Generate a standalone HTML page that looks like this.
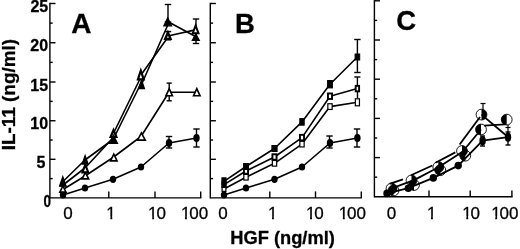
<!DOCTYPE html>
<html><head><meta charset="utf-8"><title>IL-11 vs HGF</title>
<style>html,body{margin:0;padding:0;background:#fff;}svg{display:block;will-change:transform;filter:grayscale(1);}text{stroke:#000;stroke-width:0.3px;}</style></head>
<body><svg width="520" height="249" viewBox="0 0 520 249" font-family="'Liberation Sans', Arial, sans-serif" fill="#000">
<line x1="49.9" y1="2.8" x2="49.9" y2="198.6" stroke="#000" stroke-width="1.4" />
<line x1="49.9" y1="197.9" x2="201.4" y2="197.9" stroke="#000" stroke-width="1.4" />
<line x1="49.9" y1="3.5" x2="55.5" y2="3.5" stroke="#000" stroke-width="1.4" />
<line x1="49.9" y1="42.75" x2="55.5" y2="42.75" stroke="#000" stroke-width="1.4" />
<line x1="49.9" y1="82" x2="55.5" y2="82" stroke="#000" stroke-width="1.4" />
<line x1="49.9" y1="120.75" x2="55.5" y2="120.75" stroke="#000" stroke-width="1.4" />
<line x1="49.9" y1="159.3" x2="55.5" y2="159.3" stroke="#000" stroke-width="1.4" />
<line x1="49.9" y1="23.12" x2="52.7" y2="23.12" stroke="#000" stroke-width="1.4" />
<line x1="49.9" y1="62.38" x2="52.7" y2="62.38" stroke="#000" stroke-width="1.4" />
<line x1="49.9" y1="101.38" x2="52.7" y2="101.38" stroke="#000" stroke-width="1.4" />
<line x1="49.9" y1="140.03" x2="52.7" y2="140.03" stroke="#000" stroke-width="1.4" />
<line x1="49.9" y1="178.6" x2="52.7" y2="178.6" stroke="#000" stroke-width="1.4" />
<line x1="108.8" y1="197.9" x2="108.8" y2="191.4" stroke="#000" stroke-width="1.4" />
<line x1="155" y1="197.9" x2="155" y2="191.4" stroke="#000" stroke-width="1.4" />
<line x1="200.7" y1="197.9" x2="200.7" y2="191.4" stroke="#000" stroke-width="1.4" />
<text x="30.46" y="12.0" font-size="16" font-weight="bold">25</text>
<text x="30.36" y="51.4" font-size="16" font-weight="bold">20</text>
<text x="30.31" y="91.1" font-size="16" font-weight="bold">15</text>
<text x="30.31" y="129.4" font-size="16" font-weight="bold">10</text>
<text x="36.62" y="167.8" font-size="16" font-weight="bold">5</text>
<text x="43.5" y="207.4" font-size="16" font-weight="bold" textLength="7.5" lengthAdjust="spacingAndGlyphs">0</text>
<text x="63.14" y="219.1" font-size="17" font-weight="normal">0</text>
<text x="106.31" y="219.1" font-size="17" font-weight="normal">1</text>
<text x="148.11" y="219.1" font-size="17" font-weight="normal" dx="0 -1.20">10</text>
<text x="180.91" y="219.1" font-size="17" font-weight="normal" dx="0 -1.20">100</text>
<text x="71.23" y="33.1" font-size="28" font-weight="bold">A</text>
<text transform="translate(14.8,94.6) rotate(-90)" font-size="18.9" font-weight="bold" text-anchor="middle">IL-11 (ng/ml)</text>
<polyline points="63,195 85,188 113,179.3 141,167 169,143 196.5,138" fill="none" stroke="#000" stroke-width="1.6" stroke-linejoin="round" />
<line x1="169" y1="136.5" x2="169" y2="148" stroke="#000" stroke-width="1.4" />
<line x1="165.8" y1="136.5" x2="172.2" y2="136.5" stroke="#000" stroke-width="1.4" />
<line x1="165.8" y1="148" x2="172.2" y2="148" stroke="#000" stroke-width="1.4" />
<line x1="196.5" y1="129" x2="196.5" y2="147" stroke="#000" stroke-width="1.4" />
<line x1="193.3" y1="129" x2="199.7" y2="129" stroke="#000" stroke-width="1.4" />
<line x1="193.3" y1="147" x2="199.7" y2="147" stroke="#000" stroke-width="1.4" />
<polyline points="63,189.5 85,176 113,157.5 141,136.5 169,92.2 196.5,92.2" fill="none" stroke="#000" stroke-width="1.6" stroke-linejoin="round" />
<line x1="169.2" y1="83.1" x2="169.2" y2="100.8" stroke="#000" stroke-width="1.4" />
<line x1="166.6" y1="83.1" x2="171.8" y2="83.1" stroke="#000" stroke-width="1.4" />
<line x1="166.6" y1="100.8" x2="171.8" y2="100.8" stroke="#000" stroke-width="1.4" />
<polyline points="63,181.5 85,160 113,139.5" fill="none" stroke="#000" stroke-width="1.6" stroke-linejoin="round" />
<polyline points="115.6,134.5 142.4,80.5" fill="none" stroke="#000" stroke-width="1.6" stroke-linejoin="round" />
<polyline points="141.5,84.5 169,22.2 196.5,37" fill="none" stroke="#000" stroke-width="1.6" stroke-linejoin="round" />
<polyline points="63,185 85,168 113.5,137.3" fill="none" stroke="#000" stroke-width="1.6" stroke-linejoin="round" />
<polyline points="113.4,133.5 140.2,78.5" fill="none" stroke="#000" stroke-width="1.6" stroke-linejoin="round" />
<polyline points="140.8,75.3 169,35.7 196.5,29.6" fill="none" stroke="#000" stroke-width="1.6" stroke-linejoin="round" />
<line x1="168" y1="4.5" x2="168" y2="22" stroke="#000" stroke-width="1.4" />
<line x1="164.8" y1="4.5" x2="171.2" y2="4.5" stroke="#000" stroke-width="1.4" />
<line x1="164.8" y1="22" x2="171.2" y2="22" stroke="#000" stroke-width="1.4" />
<line x1="196" y1="19" x2="196" y2="43.5" stroke="#000" stroke-width="1.4" />
<line x1="192.8" y1="19" x2="199.2" y2="19" stroke="#000" stroke-width="1.4" />
<line x1="192.8" y1="43.5" x2="199.2" y2="43.5" stroke="#000" stroke-width="1.4" />
<line x1="168.2" y1="31.6" x2="168.2" y2="39.8" stroke="#000" stroke-width="1.5" />
<line x1="165.2" y1="31.6" x2="171.2" y2="31.6" stroke="#000" stroke-width="1.5" />
<line x1="165.2" y1="39.8" x2="171.2" y2="39.8" stroke="#000" stroke-width="1.5" />
<ellipse cx="63" cy="195" rx="3.2" ry="3.6" fill="#000"/>
<ellipse cx="85" cy="188" rx="3.2" ry="3.6" fill="#000"/>
<ellipse cx="113" cy="179.3" rx="3.2" ry="3.6" fill="#000"/>
<ellipse cx="141" cy="167" rx="3.2" ry="3.6" fill="#000"/>
<ellipse cx="169" cy="143" rx="3.2" ry="3.9" fill="#000"/>
<ellipse cx="196.5" cy="138" rx="3.2" ry="3.9" fill="#000"/>
<polygon points="62.9,185.9 65.95,192.1 59.85,192.1" fill="#fff" stroke="#000" stroke-width="1.6" stroke-linejoin="miter"/>
<polygon points="85.4,172.3 88.65,178.9 82.15,178.9" fill="#fff" stroke="#000" stroke-width="1.6" stroke-linejoin="miter"/>
<polygon points="113.8,154.1 117.05,160.9 110.55,160.9" fill="#fff" stroke="#000" stroke-width="1.6" stroke-linejoin="miter"/>
<polygon points="141.4,132.9 145.25,140.1 137.55,140.1" fill="#fff" stroke="#000" stroke-width="1.6" stroke-linejoin="miter"/>
<polygon points="169.2,88.6 172.45,95.8 165.95,95.8" fill="#fff" stroke="#000" stroke-width="1.6" stroke-linejoin="miter"/>
<polygon points="196.8,88.6 200.05,95.8 193.55,95.8" fill="#fff" stroke="#000" stroke-width="1.6" stroke-linejoin="miter"/>
<polygon points="63,180.55 65.3,185.85 60.7,185.85" fill="#fff" stroke="#000" stroke-width="2.0" stroke-linejoin="miter"/>
<polygon points="85.3,164.6 88.2,172.4 82.4,172.4" fill="#fff" stroke="#000" stroke-width="2.1" stroke-linejoin="miter"/>
<polygon points="113.5,130.0 116.4,137.0 110.6,137.0" fill="#fff" stroke="#000" stroke-width="2.2" stroke-linejoin="miter"/>
<polygon points="140.8,70.7 143.7,79.3 137.9,79.3" fill="#fff" stroke="#000" stroke-width="2.2" stroke-linejoin="miter"/>
<polygon points="167.9,32.45 170.6,38.95 165.2,38.95" fill="#fff" stroke="#000" stroke-width="2.3" stroke-linejoin="miter"/>
<polygon points="195.6,25.6 198.5,33.2 192.7,33.2" fill="#fff" stroke="#000" stroke-width="2.0" stroke-linejoin="miter"/>
<polygon points="62.8,176.7 66.0,185.9 59.6,185.9" fill="#000" stroke="#000" stroke-width="1.2" stroke-linejoin="miter"/>
<polygon points="85.1,155.5 88.1,164.1 82.1,164.1" fill="#000" stroke="#000" stroke-width="1.2" stroke-linejoin="miter"/>
<polygon points="113.4,135.1 117.5,143.5 109.3,143.5" fill="#000" stroke="#000" stroke-width="1.2" stroke-linejoin="miter"/>
<polygon points="141.5,80.0 144.5,88.6 138.5,88.6" fill="#000" stroke="#000" stroke-width="1.2" stroke-linejoin="miter"/>
<polygon points="167.7,17.8 171.6,25.8 163.8,25.8" fill="#000" stroke="#000" stroke-width="1.2" stroke-linejoin="miter"/>
<polygon points="195.8,33.7 199.3,40.3 192.3,40.3" fill="#000" stroke="#000" stroke-width="1.2" stroke-linejoin="miter"/>
<line x1="210.3" y1="2.8" x2="210.3" y2="198.6" stroke="#000" stroke-width="1.4" />
<line x1="210.3" y1="197.9" x2="362.0" y2="197.9" stroke="#000" stroke-width="1.4" />
<line x1="210.3" y1="3.5" x2="215.9" y2="3.5" stroke="#000" stroke-width="1.4" />
<line x1="210.3" y1="42.75" x2="215.9" y2="42.75" stroke="#000" stroke-width="1.4" />
<line x1="210.3" y1="82" x2="215.9" y2="82" stroke="#000" stroke-width="1.4" />
<line x1="210.3" y1="120.75" x2="215.9" y2="120.75" stroke="#000" stroke-width="1.4" />
<line x1="210.3" y1="159.3" x2="215.9" y2="159.3" stroke="#000" stroke-width="1.4" />
<line x1="210.3" y1="23.12" x2="213.1" y2="23.12" stroke="#000" stroke-width="1.4" />
<line x1="210.3" y1="62.38" x2="213.1" y2="62.38" stroke="#000" stroke-width="1.4" />
<line x1="210.3" y1="101.38" x2="213.1" y2="101.38" stroke="#000" stroke-width="1.4" />
<line x1="210.3" y1="140.03" x2="213.1" y2="140.03" stroke="#000" stroke-width="1.4" />
<line x1="210.3" y1="178.6" x2="213.1" y2="178.6" stroke="#000" stroke-width="1.4" />
<line x1="269.8" y1="197.9" x2="269.8" y2="191.4" stroke="#000" stroke-width="1.4" />
<line x1="315.5" y1="197.9" x2="315.5" y2="191.4" stroke="#000" stroke-width="1.4" />
<line x1="361.3" y1="197.9" x2="361.3" y2="191.4" stroke="#000" stroke-width="1.4" />
<text x="218.34" y="219.1" font-size="17" font-weight="normal">0</text>
<text x="267.91" y="219.1" font-size="17" font-weight="normal">1</text>
<text x="306.01" y="219.1" font-size="17" font-weight="normal" dx="0 -1.20">10</text>
<text x="338.81" y="219.1" font-size="17" font-weight="normal" dx="0 -1.20">100</text>
<text x="234.99" y="32.8" font-size="27.5" font-weight="bold">B</text>
<text x="230.29" y="243.6" font-size="18.3" font-weight="bold">HGF (ng/ml)</text>
<polyline points="224,195 246,188 274.5,179.3 302,167 330,143 357.4,138" fill="none" stroke="#000" stroke-width="1.6" stroke-linejoin="round" />
<line x1="329.5" y1="136" x2="329.5" y2="148" stroke="#000" stroke-width="1.4" />
<line x1="326.3" y1="136" x2="332.7" y2="136" stroke="#000" stroke-width="1.4" />
<line x1="326.3" y1="148" x2="332.7" y2="148" stroke="#000" stroke-width="1.4" />
<line x1="357" y1="129" x2="357" y2="147" stroke="#000" stroke-width="1.4" />
<line x1="353.8" y1="129" x2="360.2" y2="129" stroke="#000" stroke-width="1.4" />
<line x1="353.8" y1="147" x2="360.2" y2="147" stroke="#000" stroke-width="1.4" />
<polyline points="224,181.4 246,166.5 274.5,148.5 302,121.9 330,84.2 357.4,57" fill="none" stroke="#000" stroke-width="1.6" stroke-linejoin="round" />
<polyline points="224,184.6 246,171 274.5,157 302,137.6 330,96.2 357.4,88.6" fill="none" stroke="#000" stroke-width="1.6" stroke-linejoin="round" />
<polyline points="224,189.0 246,177.2 274.5,163.3 302,144.1 330,106.6 357.4,102.3" fill="none" stroke="#000" stroke-width="1.6" stroke-linejoin="round" />
<line x1="357.4" y1="39.5" x2="357.4" y2="72.5" stroke="#000" stroke-width="1.4" />
<line x1="354.2" y1="39.5" x2="360.6" y2="39.5" stroke="#000" stroke-width="1.4" />
<line x1="354.2" y1="72.5" x2="360.6" y2="72.5" stroke="#000" stroke-width="1.4" />
<line x1="357.4" y1="77" x2="357.4" y2="86" stroke="#000" stroke-width="1.4" />
<line x1="354.3" y1="77" x2="360.4" y2="77" stroke="#000" stroke-width="1.4" />
<ellipse cx="224" cy="195" rx="3.2" ry="3.6" fill="#000"/>
<ellipse cx="246" cy="188" rx="3.2" ry="3.6" fill="#000"/>
<ellipse cx="274.5" cy="179.3" rx="3.2" ry="3.6" fill="#000"/>
<ellipse cx="302" cy="167" rx="3.2" ry="3.6" fill="#000"/>
<ellipse cx="330" cy="143" rx="3.2" ry="3.9" fill="#000"/>
<ellipse cx="357.4" cy="138" rx="3.2" ry="3.9" fill="#000"/>
<line x1="357.5" y1="92" x2="357.5" y2="98.4" stroke="#000" stroke-width="1.4" />
<rect x="222.1" y="186.6" width="3.8" height="4.8" fill="#fff" stroke="#000" stroke-width="1.2"/>
<rect x="243.85" y="174.35" width="4.3" height="5.7" fill="#fff" stroke="#000" stroke-width="1.2"/>
<rect x="272.35" y="160.45" width="4.3" height="5.7" fill="#fff" stroke="#000" stroke-width="1.2"/>
<rect x="299.85" y="141.25" width="4.3" height="5.7" fill="#fff" stroke="#000" stroke-width="1.2"/>
<rect x="327.85" y="103.75" width="4.3" height="5.7" fill="#fff" stroke="#000" stroke-width="1.2"/>
<rect x="355.35" y="98.8" width="4.1" height="7" fill="#fff" stroke="#000" stroke-width="1.2"/>
<rect x="222.35" y="182.15" width="3.3" height="4.9" fill="#000" stroke="#000" stroke-width="1.9"/>
<rect x="243.95" y="168.25" width="4.1" height="5.5" fill="#fff" stroke="#000" stroke-width="1.9"/>
<rect x="272.45" y="154.25" width="4.1" height="5.5" fill="#fff" stroke="#000" stroke-width="1.9"/>
<rect x="299.95" y="134.85" width="4.1" height="5.5" fill="#fff" stroke="#000" stroke-width="1.9"/>
<rect x="327.95" y="93.45" width="4.1" height="5.5" fill="#fff" stroke="#000" stroke-width="1.9"/>
<rect x="355.7" y="85.85" width="3.4" height="5.5" fill="#fff" stroke="#000" stroke-width="1.9"/>
<rect x="221.9" y="177.8" width="4.2" height="7.2" fill="#000" stroke="#000" stroke-width="1.0"/>
<rect x="243.6" y="163.5" width="4.8" height="6.0" fill="#000" stroke="#000" stroke-width="1.0"/>
<rect x="271.9" y="145.5" width="5.2" height="6.0" fill="#000" stroke="#000" stroke-width="1.0"/>
<rect x="299.8" y="118.6" width="4.4" height="6.6" fill="#000" stroke="#000" stroke-width="1.0"/>
<rect x="327.6" y="80.5" width="4.8" height="7.4" fill="#000" stroke="#000" stroke-width="1.0"/>
<rect x="355.1" y="54.0" width="4.6" height="6.0" fill="#000" stroke="#000" stroke-width="1.0"/>
<line x1="374.4" y1="0.1" x2="374.4" y2="197.4" stroke="#000" stroke-width="1.4" />
<line x1="374.4" y1="196.7" x2="512.6" y2="196.7" stroke="#000" stroke-width="1.4" />
<line x1="374.4" y1="0.8" x2="380.0" y2="0.8" stroke="#000" stroke-width="1.4" />
<line x1="374.4" y1="40.0" x2="380.0" y2="40.0" stroke="#000" stroke-width="1.4" />
<line x1="374.4" y1="79.2" x2="380.0" y2="79.2" stroke="#000" stroke-width="1.4" />
<line x1="374.4" y1="118.4" x2="380.0" y2="118.4" stroke="#000" stroke-width="1.4" />
<line x1="374.4" y1="157.6" x2="380.0" y2="157.6" stroke="#000" stroke-width="1.4" />
<line x1="374.4" y1="20.4" x2="377.2" y2="20.4" stroke="#000" stroke-width="1.4" />
<line x1="374.4" y1="59.6" x2="377.2" y2="59.6" stroke="#000" stroke-width="1.4" />
<line x1="374.4" y1="98.8" x2="377.2" y2="98.8" stroke="#000" stroke-width="1.4" />
<line x1="374.4" y1="138.0" x2="377.2" y2="138.0" stroke="#000" stroke-width="1.4" />
<line x1="374.4" y1="177.15" x2="377.2" y2="177.15" stroke="#000" stroke-width="1.4" />
<line x1="429" y1="196.7" x2="429" y2="190.5" stroke="#000" stroke-width="1.4" />
<line x1="470.2" y1="196.7" x2="470.2" y2="190.5" stroke="#000" stroke-width="1.4" />
<line x1="511.9" y1="196.7" x2="511.9" y2="190.5" stroke="#000" stroke-width="1.4" />
<text x="386.64" y="218.6" font-size="17" font-weight="normal">0</text>
<text x="426.91" y="218.6" font-size="17" font-weight="normal">1</text>
<text x="462.21" y="218.6" font-size="17" font-weight="normal" dx="0 -1.20">10</text>
<text x="491.21" y="218.6" font-size="17" font-weight="normal" dx="0 -1.20">100</text>
<text x="396.37" y="30.0" font-size="27.5" font-weight="bold">C</text>
<polyline points="387,193.4 408.3,188.2 433.3,177.9 458.2,165.6 482.6,140.7 508,137.2" fill="none" stroke="#000" stroke-width="1.8" stroke-linejoin="round" />
<polyline points="393,187.8 414,180.1 438.5,167.3 462.5,151.8 481,129.5" fill="none" stroke="#000" stroke-width="1.8" stroke-linejoin="round" />
<line x1="484" y1="125.7" x2="505" y2="124.4" stroke="#000" stroke-width="1.8" />
<line x1="481.5" y1="114.6" x2="508" y2="137" stroke="#000" stroke-width="1.8" />
<line x1="389.5" y1="183.8" x2="403" y2="179.3" stroke="#000" stroke-width="1.8" />
<line x1="411" y1="175.3" x2="432.3" y2="165.5" stroke="#000" stroke-width="1.8" />
<line x1="435.5" y1="162.7" x2="455.3" y2="152.4" stroke="#000" stroke-width="1.8" />
<line x1="459.6" y1="144.5" x2="480" y2="117" stroke="#000" stroke-width="1.8" />
<line x1="483" y1="103.5" x2="483" y2="110" stroke="#000" stroke-width="1.2" />
<line x1="480.5" y1="103.5" x2="485.5" y2="103.5" stroke="#000" stroke-width="1.2" />
<line x1="508" y1="125" x2="508" y2="135" stroke="#000" stroke-width="1.2" />
<line x1="505.5" y1="127.5" x2="510.5" y2="127.5" stroke="#000" stroke-width="1.2" />
<line x1="482.5" y1="136" x2="482.5" y2="146" stroke="#000" stroke-width="1.4" />
<line x1="480.0" y1="136" x2="485.0" y2="136" stroke="#000" stroke-width="1.4" />
<line x1="480.0" y1="146" x2="485.0" y2="146" stroke="#000" stroke-width="1.4" />
<line x1="508" y1="132" x2="508" y2="145" stroke="#000" stroke-width="1.4" />
<line x1="505.5" y1="132" x2="510.5" y2="132" stroke="#000" stroke-width="1.4" />
<line x1="505.5" y1="145" x2="510.5" y2="145" stroke="#000" stroke-width="1.4" />
<circle cx="391.5" cy="188.5" r="5.4" fill="none" stroke="#000" stroke-width="0.9"/>
<path d="M391.5,183.1 A5.4,5.4 0 0 1 391.5,193.9 Z" fill="#000"/>
<circle cx="411.5" cy="180.5" r="5.4" fill="none" stroke="#000" stroke-width="0.9"/>
<path d="M411.5,175.1 A5.4,5.4 0 0 1 411.5,185.9 Z" fill="#000"/>
<circle cx="438.3" cy="167" r="5.4" fill="none" stroke="#000" stroke-width="0.9"/>
<path d="M438.3,161.6 A5.4,5.4 0 0 1 438.3,172.4 Z" fill="#000"/>
<circle cx="462" cy="151" r="5.4" fill="none" stroke="#000" stroke-width="0.9"/>
<path d="M462,145.6 A5.4,5.4 0 0 1 462,156.4 Z" fill="#000"/>
<circle cx="481.5" cy="114.6" r="5.4" fill="none" stroke="#000" stroke-width="0.9"/>
<path d="M481.5,109.2 A5.4,5.4 0 0 1 481.5,120.0 Z" fill="#000"/>
<circle cx="393.5" cy="190.5" r="5.4" fill="none" stroke="#000" stroke-width="0.9"/>
<path d="M393.5,185.1 A5.4,5.4 0 0 0 393.5,195.9 Z" fill="#000"/>
<circle cx="414" cy="185" r="5.4" fill="none" stroke="#000" stroke-width="0.9"/>
<path d="M414,179.6 A5.4,5.4 0 0 0 414,190.4 Z" fill="#000"/>
<circle cx="440.3" cy="170.2" r="5.4" fill="none" stroke="#000" stroke-width="0.9"/>
<path d="M440.3,164.8 A5.4,5.4 0 0 0 440.3,175.6 Z" fill="#000"/>
<circle cx="465.3" cy="155.7" r="5.4" fill="none" stroke="#000" stroke-width="0.9"/>
<path d="M465.3,150.3 A5.4,5.4 0 0 0 465.3,161.1 Z" fill="#000"/>
<circle cx="481" cy="129.5" r="5.4" fill="none" stroke="#000" stroke-width="0.9"/>
<path d="M481,124.1 A5.4,5.4 0 0 0 481,134.9 Z" fill="#000"/>
<circle cx="506.7" cy="119.6" r="5.4" fill="none" stroke="#000" stroke-width="0.9"/>
<path d="M506.7,114.2 A5.4,5.4 0 0 0 506.7,125.0 Z" fill="#000"/>
<ellipse cx="387" cy="193.4" rx="3.7" ry="3.8" fill="#000"/>
<ellipse cx="408.3" cy="188.2" rx="3.7" ry="3.8" fill="#000"/>
<ellipse cx="433.3" cy="177.9" rx="3.7" ry="3.8" fill="#000"/>
<ellipse cx="458.2" cy="165.6" rx="3.7" ry="3.8" fill="#000"/>
<ellipse cx="482.6" cy="140.7" rx="3.2" ry="4.6" fill="#000"/>
<ellipse cx="508" cy="137.2" rx="3.2" ry="4.6" fill="#000"/>
<rect x="106.99" y="216.54" width="3.39" height="4.36" fill="#fff"/>
<rect x="112.27" y="216.54" width="3.50" height="4.36" fill="#fff"/>
<rect x="148.79" y="216.54" width="3.39" height="4.36" fill="#fff"/>
<rect x="154.07" y="216.54" width="3.50" height="4.36" fill="#fff"/>
<rect x="181.59" y="216.54" width="3.39" height="4.36" fill="#fff"/>
<rect x="186.87" y="216.54" width="3.50" height="4.36" fill="#fff"/>
<rect x="268.59" y="216.54" width="3.39" height="4.36" fill="#fff"/>
<rect x="273.87" y="216.54" width="3.50" height="4.36" fill="#fff"/>
<rect x="306.69" y="216.54" width="3.39" height="4.36" fill="#fff"/>
<rect x="311.97" y="216.54" width="3.50" height="4.36" fill="#fff"/>
<rect x="339.49" y="216.54" width="3.39" height="4.36" fill="#fff"/>
<rect x="344.77" y="216.54" width="3.50" height="4.36" fill="#fff"/>
<rect x="427.59" y="216.04" width="3.39" height="4.36" fill="#fff"/>
<rect x="432.87" y="216.04" width="3.50" height="4.36" fill="#fff"/>
<rect x="462.89" y="216.04" width="3.39" height="4.36" fill="#fff"/>
<rect x="468.17" y="216.04" width="3.50" height="4.36" fill="#fff"/>
<rect x="491.89" y="216.04" width="3.39" height="4.36" fill="#fff"/>
<rect x="497.17" y="216.04" width="3.50" height="4.36" fill="#fff"/>
</svg></body></html>
